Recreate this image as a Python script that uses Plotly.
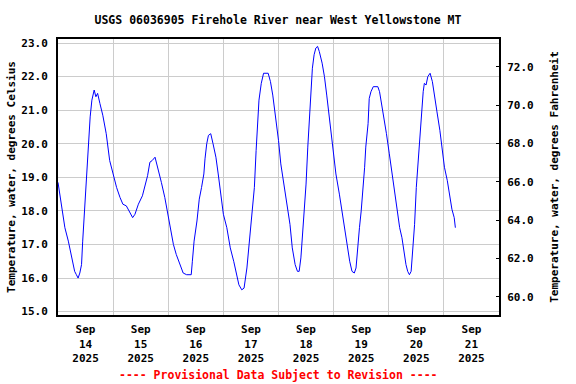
import plotly.graph_objects as go

# ---- data ----
times = [
    "2025-09-14 00:00", "2025-09-14 01:30", "2025-09-14 03:00", "2025-09-14 04:30", "2025-09-14 06:00",
    "2025-09-14 07:15", "2025-09-14 08:00", "2025-09-14 08:45", "2025-09-14 09:30", "2025-09-14 10:15",
    "2025-09-14 10:45", "2025-09-14 12:15", "2025-09-14 13:00", "2025-09-14 14:00", "2025-09-14 14:45",
    "2025-09-14 15:45", "2025-09-14 16:30", "2025-09-14 17:15", "2025-09-14 18:15", "2025-09-14 19:30",
    "2025-09-14 21:00", "2025-09-14 22:30",
    "2025-09-15 00:00", "2025-09-15 01:30", "2025-09-15 03:00", "2025-09-15 04:15", "2025-09-15 05:45",
    "2025-09-15 07:15", "2025-09-15 08:30", "2025-09-15 09:30", "2025-09-15 11:00", "2025-09-15 12:45",
    "2025-09-15 13:45", "2025-09-15 15:00", "2025-09-15 16:00", "2025-09-15 17:00", "2025-09-15 18:15",
    "2025-09-15 19:00", "2025-09-15 20:00", "2025-09-15 21:00", "2025-09-15 22:30",
    "2025-09-16 00:00", "2025-09-16 01:15", "2025-09-16 02:15", "2025-09-16 03:30", "2025-09-16 05:00",
    "2025-09-16 06:30", "2025-09-16 08:00", "2025-09-16 10:00", "2025-09-16 10:30", "2025-09-16 11:15",
    "2025-09-16 12:30", "2025-09-16 13:30", "2025-09-16 14:30", "2025-09-16 15:30", "2025-09-16 16:00",
    "2025-09-16 16:45", "2025-09-16 17:30", "2025-09-16 18:30", "2025-09-16 19:30", "2025-09-16 20:45",
    "2025-09-16 21:45", "2025-09-16 22:45",
    "2025-09-17 00:00", "2025-09-17 01:30", "2025-09-17 03:00", "2025-09-17 04:30", "2025-09-17 05:45",
    "2025-09-17 06:45", "2025-09-17 08:00", "2025-09-17 09:00", "2025-09-17 10:15", "2025-09-17 11:15",
    "2025-09-17 12:30", "2025-09-17 13:30", "2025-09-17 14:15", "2025-09-17 15:00", "2025-09-17 15:30",
    "2025-09-17 16:30", "2025-09-17 17:30", "2025-09-17 19:30", "2025-09-17 20:30", "2025-09-17 21:30",
    "2025-09-17 22:45",
    "2025-09-18 00:00", "2025-09-18 01:00", "2025-09-18 02:30", "2025-09-18 04:00", "2025-09-18 05:00",
    "2025-09-18 06:00", "2025-09-18 07:15", "2025-09-18 08:15", "2025-09-18 09:00", "2025-09-18 09:45",
    "2025-09-18 10:30", "2025-09-18 11:15", "2025-09-18 12:00", "2025-09-18 12:45", "2025-09-18 13:30",
    "2025-09-18 14:00", "2025-09-18 14:45", "2025-09-18 15:30", "2025-09-18 16:15", "2025-09-18 17:00",
    "2025-09-18 17:45", "2025-09-18 19:00", "2025-09-18 20:00", "2025-09-18 21:00", "2025-09-18 22:00",
    "2025-09-18 23:15",
    "2025-09-19 00:15", "2025-09-19 01:00", "2025-09-19 02:30", "2025-09-19 03:30", "2025-09-19 04:45",
    "2025-09-19 05:45", "2025-09-19 07:00", "2025-09-19 08:00", "2025-09-19 09:00", "2025-09-19 09:45",
    "2025-09-19 10:30", "2025-09-19 11:15", "2025-09-19 12:00", "2025-09-19 12:45", "2025-09-19 13:30",
    "2025-09-19 14:00", "2025-09-19 15:00", "2025-09-19 15:30", "2025-09-19 16:15", "2025-09-19 17:15",
    "2025-09-19 19:15", "2025-09-19 20:00", "2025-09-19 21:00", "2025-09-19 22:00", "2025-09-19 23:00",
    "2025-09-20 00:15", "2025-09-20 01:30", "2025-09-20 02:30", "2025-09-20 03:30", "2025-09-20 04:45",
    "2025-09-20 05:45", "2025-09-20 06:30", "2025-09-20 07:30", "2025-09-20 08:15", "2025-09-20 09:00",
    "2025-09-20 09:45", "2025-09-20 10:30", "2025-09-20 11:15", "2025-09-20 12:00", "2025-09-20 12:45",
    "2025-09-20 13:30", "2025-09-20 14:15", "2025-09-20 15:00", "2025-09-20 15:30", "2025-09-20 16:15",
    "2025-09-20 17:00", "2025-09-20 18:00", "2025-09-20 19:00", "2025-09-20 20:00", "2025-09-20 21:00",
    "2025-09-20 22:15", "2025-09-20 23:15",
    "2025-09-21 00:15", "2025-09-21 01:30", "2025-09-21 02:30", "2025-09-21 03:30", "2025-09-21 04:30",
    "2025-09-21 05:00",
]
temps_c = [
    18.85, 18.20, 17.50, 17.10, 16.65,
    16.20, 16.10, 16.00, 16.15, 16.40,
    17.10, 18.70, 19.80, 20.80, 21.30,
    21.60, 21.40, 21.50, 21.20, 20.85,
    20.30, 19.50,
    19.10, 18.70, 18.40, 18.20, 18.15,
    17.95, 17.80, 17.90, 18.20, 18.45,
    18.70, 19.05, 19.45, 19.50, 19.60,
    19.40, 19.20, 18.85, 18.40,
    17.80, 17.30, 17.00, 16.70, 16.40,
    16.15, 16.10, 16.10, 16.50, 17.10,
    17.70, 18.35, 18.70, 19.10, 19.55,
    20.00, 20.25, 20.30, 20.00, 19.60,
    19.10, 18.50,
    17.90, 17.50, 16.90, 16.50, 16.15,
    15.80, 15.65, 15.70, 16.30, 17.00,
    17.90, 18.70, 19.80, 20.70, 21.30,
    21.80, 22.10, 22.10, 21.85, 21.45,
    20.85,
    20.10, 19.40, 18.70, 18.10, 17.60,
    16.90, 16.40, 16.20, 16.20, 16.60,
    17.35, 17.90, 18.80, 19.90, 20.70,
    21.30, 22.25, 22.65, 22.85, 22.90,
    22.75, 22.40, 22.00, 21.45, 20.85,
    20.10,
    19.50, 19.10, 18.50, 18.05, 17.50,
    17.00, 16.50, 16.20, 16.15, 16.30,
    17.05, 17.50, 18.00, 18.60, 19.30,
    19.90, 20.60, 21.35, 21.55, 21.70,
    21.70, 21.55, 21.15, 20.75, 20.30,
    19.70, 19.10, 18.60, 18.00, 17.50,
    17.20, 16.80, 16.40, 16.20, 16.10,
    16.20, 16.90, 17.60, 18.70, 19.50,
    20.10, 20.75, 21.55, 21.80, 21.75,
    22.00, 22.10, 21.85, 21.45, 20.95,
    20.40, 19.80,
    19.30, 18.90, 18.50, 18.05, 17.80,
    17.50,
]

x_range = ["2025-09-14 00:00", "2025-09-22 00:00"]
y_left_range = [14.90, 23.12]
y_right_range = [59.05, 73.46]

TITLE = "USGS 06036905 Firehole River near West Yellowstone MT"
FOOTER = "---- Provisional Data Subject to Revision ----"
Y_LEFT_TITLE = "Temperature, water, degrees Celsius"
Y_RIGHT_TITLE = "Temperature, water, degrees Fahrenheit"

FONT = "DejaVu Sans Mono"
bold = dict(family=FONT, size=11, color="black", weight="bold")

fig = go.Figure()
fig.add_trace(go.Scatter(x=times, y=temps_c, mode="lines",
                         line=dict(color="#0000ff", width=1),
                         showlegend=False, hoverinfo="x+y"))
fig.add_trace(go.Scatter(x=[], y=[], yaxis="y2", showlegend=False))

fig.update_layout(
    width=576, height=384,
    margin=dict(l=58, r=77, t=39, b=69, autoexpand=False),
    paper_bgcolor="white", plot_bgcolor="white",
    title=dict(text=TITLE, x=278 / 576, xanchor="center", xref="container",
               y=1 - 20 / 384, yanchor="middle",
               font=dict(family=FONT, size=11.5, color="black", weight="bold")),
    xaxis=dict(
        type="date", range=x_range, dtick=86400000, tick0="2025-09-14",
        ticklabelmode="period", tickformat="%b<br>%d<br>%Y",
        showgrid=True, gridcolor="#cccccc", gridwidth=1,
        showline=True, linecolor="black", linewidth=2, mirror=True,
        ticks="", tickfont=bold, ticklabelstandoff=3, zeroline=False,
    ),
    yaxis=dict(
        range=y_left_range, dtick=1, tick0=15, tickformat=".1f",
        showgrid=True, gridcolor="#cccccc", gridwidth=1,
        showline=True, linecolor="black", linewidth=2, mirror=True,
        ticks="", tickfont=bold, ticklabelstandoff=6, zeroline=False,
        title=dict(text=Y_LEFT_TITLE, font=bold, standoff=3),
    ),
    yaxis2=dict(
        overlaying="y", side="right", anchor="x",
        range=y_right_range, dtick=2, tick0=60, tickformat=".1f",
        showgrid=False, zeroline=False,
        showline=True, linecolor="black", linewidth=2,
        ticks="inside", ticklen=3, tickcolor="black", tickwidth=1,
        tickfont=bold, ticklabelstandoff=4,
        title=dict(text=Y_RIGHT_TITLE, font=bold, standoff=18),
    ),
    annotations=[dict(
        text=FOOTER, xref="paper", yref="paper", x=0.5, y=-(375 - 315) / 276,
        xanchor="center", yanchor="middle", showarrow=False,
        font=dict(family=FONT, size=11.5, color="#ff0000", weight="bold"),
    )],
)

fig.write_html("out.html", config={"displayModeBar": False},
               post_script="document.body.style.margin='0';document.body.style.padding='0';")
